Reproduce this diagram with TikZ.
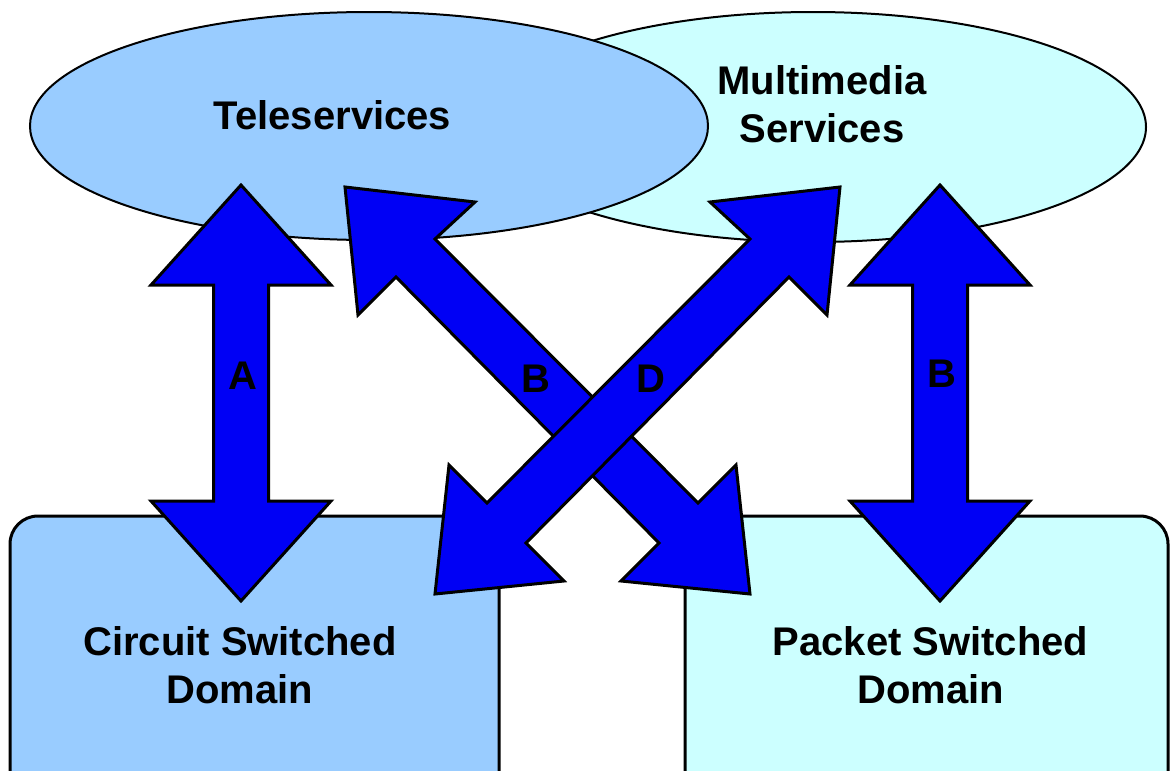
\documentclass[tikz,border=0pt]{standalone}
\usepackage{fontspec}
\setmainfont{Liberation Sans}
\usetikzlibrary{shapes.geometric}
\definecolor{teleblue}{RGB}{153,204,255}
\definecolor{mmcyan}{RGB}{204,255,255}
\definecolor{arrowblue}{RGB}{0,0,245}
\tikzset{
  bubble/.style={ellipse, draw=black, line width=2pt, inner sep=0pt},
  domainbox/.style={rectangle, draw=black, line width=3pt, rounded corners=28pt, inner sep=0pt},
  bigtext/.style={inner sep=0pt, align=center, font=\fontsize{40}{48}\selectfont\bfseries},
  blockarrow/.style={fill=arrowblue, draw=black, line width=3pt, line join=miter},
  letter/.style={inner sep=0pt, font=\fontsize{40}{48}\selectfont\bfseries}
}
\begin{document}
\begin{tikzpicture}[x=1pt,y=-1pt]
\useasboundingbox (0,0) rectangle (1170,771);
% ellipses
\node[bubble, fill=mmcyan, minimum width=666pt, minimum height=230pt] (mm) at (813,127) {};
\node[bubble, fill=teleblue, minimum width=678pt, minimum height=228pt] (tele) at (369,126) {};
\node[bigtext] (teletxt) at (332.5,115) {Teleservices};
\node[bigtext] (mmtxt) at (822,104) {Multimedia\\Services};
% domains
\node[domainbox, fill=teleblue, minimum width=489pt, minimum height=290pt] (csd) at (254.5,661) {};
\node[domainbox, fill=mmcyan, minimum width=483pt, minimum height=290pt] (psd) at (926.5,661) {};
\node[bigtext] (csdtxt) at (240,665) {Circuit Switched\\Domain};
\node[bigtext] (psdtxt) at (930.5,665) {Packet Switched\\Domain};
% vertical arrow A
\coordinate (atop) at (241,185);
\coordinate (abot) at (241,601);
\draw[blockarrow] (atop) -- (331,285) -- (268.5,285) -- (268.5,501) -- (331,501) -- (abot)
  -- (151,501) -- (213.5,501) -- (213.5,285) -- (151,285) -- cycle;
% vertical arrow B (right)
\coordinate (btop) at (940,185);
\coordinate (bbot) at (940,601);
\draw[blockarrow] (btop) -- (1030,285) -- (967.5,285) -- (967.5,501) -- (1030,501) -- (bbot)
  -- (850,501) -- (912.5,501) -- (912.5,285) -- (850,285) -- cycle;
% diagonal arrow B
\coordinate (dbtop) at (345,187);
\coordinate (dbbot) at (750,594);
\draw[blockarrow] (dbtop) -- (475,202) -- (435,239) -- (698,503) -- (736,465) -- (dbbot)
  -- (621,581) -- (659,543) -- (396,277) -- (358,315) -- cycle;
% diagonal arrow D
\coordinate (ddtop) at (840,187);
\coordinate (ddbot) at (435,594);
\draw[blockarrow] (ddtop) -- (710,202) -- (750,239) -- (487,503) -- (449,465) -- (ddbot)
  -- (564,581) -- (526,543) -- (789,277) -- (827,315) -- cycle;
% labels
\node[letter] (la) at (243,376) {A};
\node[letter] (lb1) at (535.5,379) {B};
\node[letter] (ld) at (651,379) {D};
\node[letter] (lb2) at (942,374) {B};
\end{tikzpicture}
\end{document}
